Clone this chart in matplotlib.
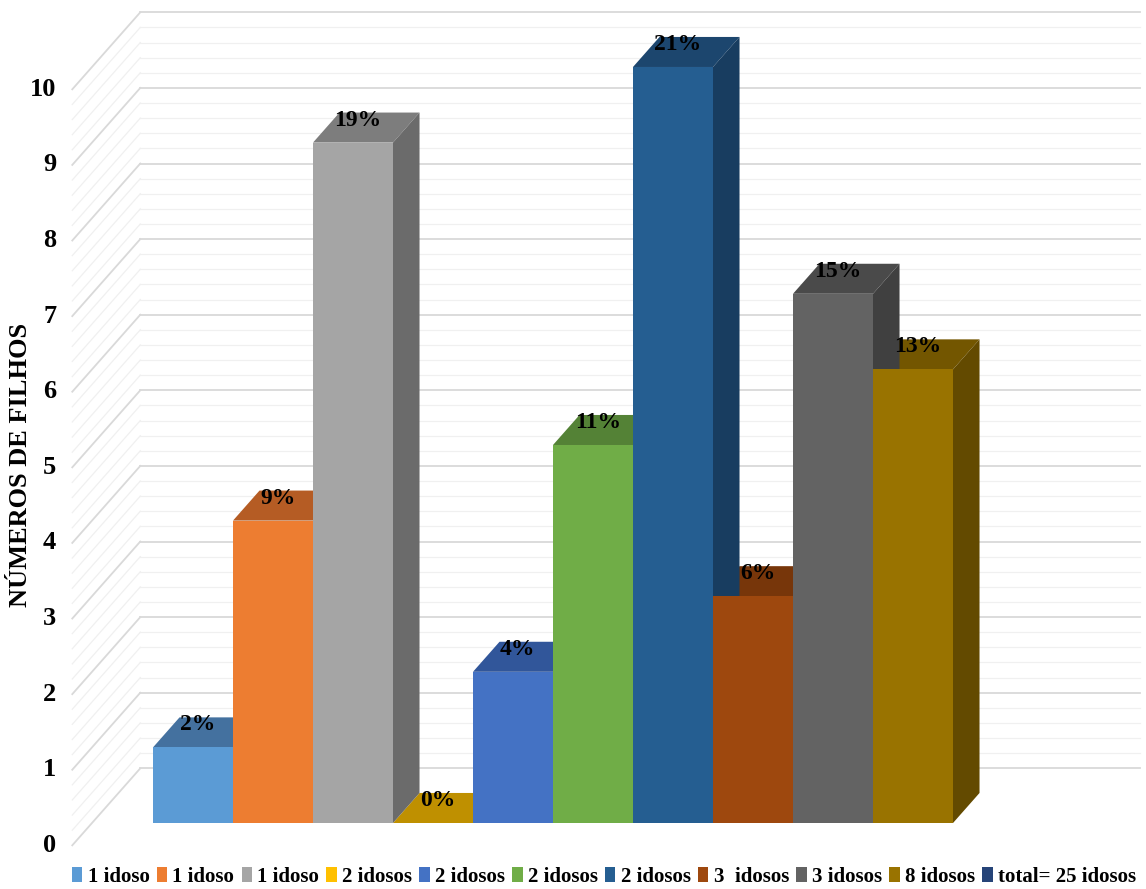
import numpy as np
import matplotlib
matplotlib.use("Agg")
import matplotlib.pyplot as plt
from matplotlib.patches import Polygon, Patch

plt.rcParams['font.family'] = ['Liberation Serif', 'DejaVu Serif']
plt.rcParams['font.weight'] = 'bold'

# data
legend_labels = ['1 idoso', '1 idoso', '1 idoso', '2 idosos', '2 idosos', '2 idosos',
                 '2 idosos', '3  idosos', '3 idosos', '8 idosos']
values = [1, 4, 9, 0, 2, 5, 10, 3, 7, 6]
pct_labels = ['2%', '9%', '19%', '0%', '4%', '11%', '21%', '6%', '15%', '13%']
total_label = 'total= 25 idosos'
y_ticks = list(range(0, 11))
y_title = 'NÚMEROS DE FILHOS'

front_colors = ['#5B9BD5', '#ED7D31', '#A5A5A5', '#FFC000', '#4472C4',
                '#70AD47', '#255E91', '#9E480E', '#636363', '#997300']
top_colors = ['#44719F', '#B55C24', '#7D7D7D', '#BF9000', '#31569A',
              '#548236', '#1C466E', '#77360A', '#4A4A4A', '#735600']
side_colors = ['#3B6289', '#9C4F1F', '#6B6B6B', '#A67D00', '#2A4A85',
               '#48702E', '#183D60', '#672F09', '#404040', '#634A00']
total_color = '#264478'

# pseudo 3d projection (depth -> shift right and up)
KX, KY = 0.85, 1.0185
Z_WALL_FRONT, Z_WALL_BACK = -0.29, 0.71
Z_BAR = 0.39
SIDE_X = -0.7625
WALL_RIGHT = 12.34


def proj(x, y, z):
    return (x + z * KX, y + z * KY)


fig = plt.figure(figsize=(11.46, 8.89), dpi=100)
ax = fig.add_axes([0, 0, 1, 1])
ax.set_xlim(-1.9125, 12.4125)
ax.set_ylim(-0.873, 10.886)
ax.axis('off')

# walls with gridlines
for v in np.round(np.arange(0, 10.001, 0.2), 1):
    major = abs(v - round(v)) < 1e-6
    col = '#D9D9D9' if major else '#F0F0F0'
    lw = 1.3 if major else 0.9
    fx, fy = proj(SIDE_X, v, Z_WALL_FRONT)
    bx, by = proj(SIDE_X, v, Z_WALL_BACK)
    ax.plot([fx, bx], [fy, by], color=col, lw=lw, zorder=1)
    ax.plot([bx, WALL_RIGHT], [by, by], color=col, lw=lw, zorder=1)

for v in y_ticks:
    fx, fy = proj(SIDE_X, v, Z_WALL_FRONT)
    ax.text(fx - 0.2, fy, str(v), ha='right', va='center', fontsize=19,
            fontweight='bold')

# bars: tops, then sides, then fronts
n = len(values)
for i in range(n):
    h = values[i]
    top = [proj(i, h, 0), proj(i + 1, h, 0), proj(i + 1, h, Z_BAR), proj(i, h, Z_BAR)]
    ax.add_patch(Polygon(top, closed=True, facecolor=top_colors[i], edgecolor='none', zorder=3))
for i in range(n):
    h = values[i]
    side = [proj(i + 1, 0, 0), proj(i + 1, h, 0), proj(i + 1, h, Z_BAR), proj(i + 1, 0, Z_BAR)]
    ax.add_patch(Polygon(side, closed=True, facecolor=side_colors[i], edgecolor='none', zorder=4))
ax.bar(np.arange(n), values, width=1.0, align='edge', color=front_colors,
       edgecolor='none', zorder=5)

for i in range(n):
    h = values[i]
    cx, cy = proj(i + 0.5, h, Z_BAR)
    ax.text(i + 0.56, cy - 0.1, pct_labels[i], ha='center', va='center',
            fontsize=17, fontweight='bold', zorder=6)

fig.text(0.0175, 1 - 465 / 889, y_title, rotation=90, ha='center', va='center',
         fontsize=19, fontweight='bold')

handles = [Patch(facecolor=c, edgecolor='none') for c in front_colors]
handles.append(Patch(facecolor=total_color, edgecolor='none'))
fig.legend(handles, legend_labels + [total_label], loc='center',
           bbox_to_anchor=(604 / 1146, 1 - 877 / 889), ncol=11, frameon=False,
           fontsize=15, handlelength=0.5, handleheight=0.7, handletextpad=0.25,
           columnspacing=0.35, borderpad=0, borderaxespad=0)

fig.savefig('out.png', dpi=100)
